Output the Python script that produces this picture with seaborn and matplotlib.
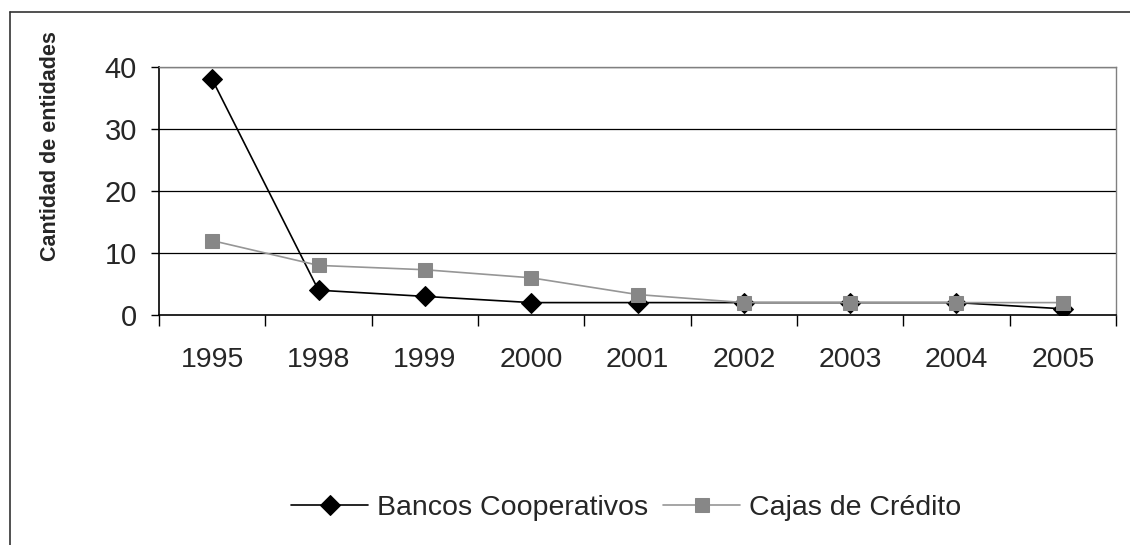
import matplotlib
matplotlib.use("Agg")
import matplotlib.pyplot as plt
import seaborn as sns
import pandas as pd
from matplotlib.lines import Line2D

years = ["1995", "1998", "1999", "2000", "2001", "2002", "2003", "2004", "2005"]
bancos = [38, 4, 3, 2, 2, 2, 2, 2, 1]
cajas = [12, 8, 7.3, 6, 3.3, 2, 2, 2, 2]
yticks = [0, 10, 20, 30, 40]

sns.set_theme(style="white")
plt.rcParams["font.family"] = ["Liberation Sans", "DejaVu Sans"]

fig = plt.figure(figsize=(11.3, 5.45), dpi=100)
L, R, T, B = 159, 1116, 67, 315
ax = fig.add_axes([L / 1130, 1 - B / 545, (R - L) / 1130, (B - T) / 545])

idx = list(range(len(years)))
df_b = pd.DataFrame({"x": idx, "y": bancos})
df_c = pd.DataFrame({"x": idx, "y": cajas})

for v in yticks[1:]:
    ax.axhline(v, color="#000000", lw=0.9, zorder=0)

sns.lineplot(data=df_c, x="x", y="y", ax=ax, color="#969696", lw=1.2,
             marker="s", markersize=10.5, markerfacecolor="#878787",
             markeredgecolor="#878787", label="Cajas de Crédito", zorder=3)
sns.lineplot(data=df_b, x="x", y="y", ax=ax, color="black", lw=1.2,
             marker="D", markersize=10.5, markerfacecolor="black",
             markeredgecolor="black", label="Bancos Cooperativos", zorder=2)

ax.set_xlim(-0.5, len(years) - 0.5)
ax.set_ylim(0, 40)
ax.set_yticks(yticks)
ax.set_yticklabels([str(v) for v in yticks], fontsize=21)
ax.set_xticks(idx)
ax.set_xticklabels(years, fontsize=20.5)
ax.set_xticks([i - 0.5 for i in range(0, len(years) + 1)], minor=True)
ax.tick_params(axis="x", which="major", length=0, pad=23)
ax.tick_params(axis="x", which="minor", length=8, width=1, color="black", direction="out", bottom=True)
ax.tick_params(axis="y", which="major", length=6, width=1, color="black", direction="out", left=True, pad=10)

ax.set_xlabel("")
ax.set_ylabel("Cantidad de entidades", fontsize=15.5, fontweight="bold")
ax.yaxis.set_label_coords((61 - L) / (R - L), (B - 146) / (B - T))

for s in ["left", "bottom"]:
    ax.spines[s].set_color("black")
    ax.spines[s].set_linewidth(1.2)
for s in ["right", "top"]:
    ax.spines[s].set_color("#808080")
    ax.spines[s].set_linewidth(1)

h, l = ax.get_legend_handles_labels()
order = [l.index("Bancos Cooperativos"), l.index("Cajas de Crédito")]
leg = fig.legend([h[i] for i in order], [l[i] for i in order], loc="center",
                 bbox_to_anchor=(0.554, 0.068), ncol=2, frameon=False, fontsize=20.5,
                 handlelength=2.7, columnspacing=0.55, handletextpad=0.3)
ax.get_legend().remove()

fig.add_artist(Line2D([10 / 1130, 10 / 1130], [0, 1 - 12 / 545], transform=fig.transFigure, color="#333333", lw=1.2))
fig.add_artist(Line2D([10 / 1130, 1], [1 - 12 / 545, 1 - 12 / 545], transform=fig.transFigure, color="#333333", lw=1.2))

fig.savefig("out.png", dpi=100)
